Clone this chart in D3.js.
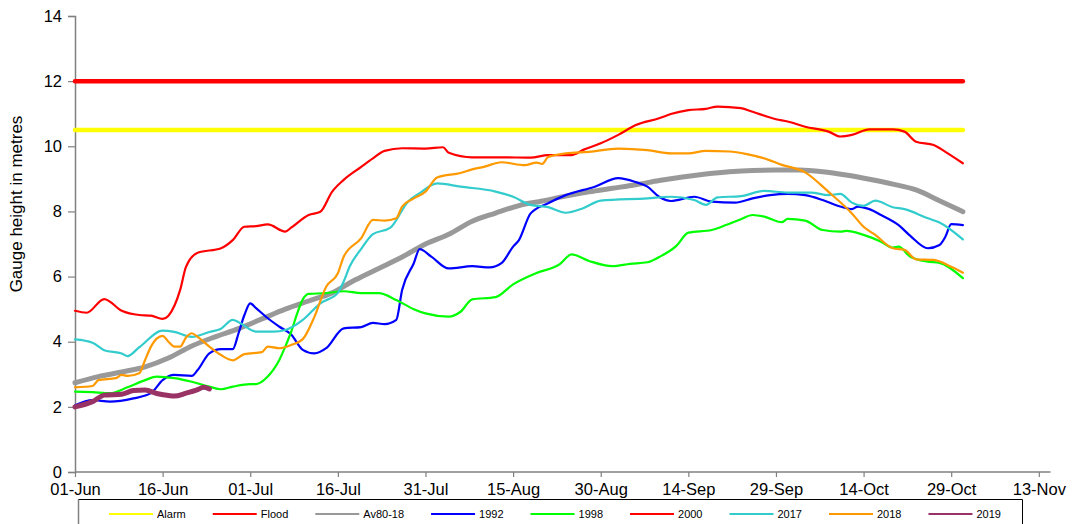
<!DOCTYPE html>
<html>
<head>
<meta charset="utf-8">
<script src="https://cdnjs.cloudflare.com/ajax/libs/d3/7.8.5/d3.min.js"></script>
<style>
  body { margin: 0; background: #fff; }
  text { font-family: "Liberation Sans", Arial, sans-serif; }
</style>
</head>
<body>
<script>
// days counted from 01-Jun, gauge height in metres
const tickDays = [0, 15, 30, 45, 60, 75, 90, 105, 120, 135, 150, 165];
const tickLabels = ["01-Jun", "16-Jun", "01-Jul", "16-Jul", "31-Jul", "15-Aug", "30-Aug", "14-Sep", "29-Sep", "14-Oct", "29-Oct", "13-Nov"];
const yTicks = [0, 2, 4, 6, 8, 10, 12, 14];

const seriesNames = ["Alarm", "Flood", "Av80-18", "1992", "1998", "2000", "2017", "2018", "2019"];
const colours = ["#ffff00", "#ff0000", "#999999", "#0000ff", "#00ff00", "#ff0000", "#33cccc", "#ff9900", "#993366"];
const widths = [4.5, 4.5, 5, 2.2, 2.2, 2.2, 2.2, 2.2, 5];

const alarm = [[0, 10.5], [152, 10.5]];
const flood = [[0, 12], [152, 12]];

const av8018 = [[0,2.74],[4,2.93],[8,3.07],[12,3.23],[16,3.5],[20,3.87],[24,4.15],[28,4.4],[32,4.7],[36,5.0],[40,5.25],[44,5.5],[48,5.9],[52,6.25],[56,6.6],[60,7.0],[64,7.3],[68,7.7],[72,7.95],[76,8.18],[80,8.32],[84,8.47],[88,8.6],[92,8.71],[96,8.82],[100,8.95],[104,9.06],[108,9.15],[112,9.22],[116,9.26],[120,9.27],[124,9.27],[128,9.22],[132,9.12],[136,8.99],[140,8.84],[144,8.66],[148,8.33],[152,7.99]];

const y1992 = [[0,2.05],[3,2.21],[6,2.16],[10,2.26],[13,2.42],[15,2.82],[17,2.98],[20,2.95],[21,3.13],[23,3.64],[25,3.77],[27,3.77],[28,4.26],[29,4.82],[30,5.18],[31,5.03],[33,4.72],[35,4.46],[37,4.22],[39,3.75],[41,3.64],[43,3.8],[46,4.41],[49,4.45],[51,4.58],[53,4.54],[55,4.67],[56,5.59],[58,6.41],[59,6.84],[61,6.61],[64,6.25],[68,6.32],[71,6.28],[73,6.41],[75,6.92],[76,7.12],[78,7.94],[81,8.25],[84,8.5],[89,8.76],[93,9.02],[96,8.9],[98,8.76],[100,8.45],[102,8.32],[106,8.45],[109,8.3],[113,8.27],[116,8.4],[119,8.5],[122,8.54],[125,8.5],[128,8.35],[131,8.15],[133,8.07],[134,8.15],[136,8.07],[138,7.89],[141,7.58],[143,7.25],[146,6.87],[148,6.97],[149,7.22],[150,7.61],[152,7.58]];

const y1998 = [[0,2.47],[3,2.45],[6,2.42],[9,2.6],[12,2.82],[14,2.93],[17,2.88],[20,2.77],[23,2.62],[25,2.54],[27,2.62],[30,2.7],[31,2.7],[33,2.93],[34,3.15],[35,3.45],[36,3.85],[37,4.3],[38,4.85],[39,5.3],[40,5.47],[43,5.49],[46,5.55],[49,5.49],[52,5.49],[55,5.28],[58,5.0],[60,4.87],[64,4.77],[66,4.92],[68,5.3],[72,5.37],[75,5.76],[79,6.11],[83,6.38],[85,6.68],[88,6.48],[92,6.32],[95,6.39],[98,6.44],[100,6.6],[103,6.95],[105,7.35],[109,7.43],[111,7.55],[114,7.76],[116,7.89],[118,7.84],[121,7.67],[122,7.77],[125,7.72],[128,7.43],[131,7.38],[132,7.4],[135,7.28],[138,7.07],[140,6.89],[141,6.92],[143,6.61],[146,6.46],[148,6.42],[152,5.95]];

const y2000 = [[0,4.95],[2,4.89],[5,5.31],[8,4.95],[11,4.82],[13,4.8],[15,4.7],[16,4.8],[18,5.59],[19,6.3],[21,6.73],[25,6.87],[27,7.12],[29,7.53],[31,7.55],[33,7.6],[36,7.38],[37,7.5],[40,7.89],[42,7.99],[44,8.6],[46,8.97],[49,9.37],[51,9.63],[53,9.86],[56,9.94],[60,9.93],[63,9.97],[64,9.8],[68,9.66],[73,9.66],[78,9.65],[81,9.73],[85,9.73],[87,9.89],[90,10.09],[93,10.35],[96,10.65],[100,10.86],[102,10.99],[105,11.11],[108,11.15],[110,11.22],[114,11.17],[116,11.06],[120,10.83],[122,10.76],[125,10.6],[129,10.45],[131,10.3],[133,10.35],[136,10.52],[140,10.52],[142,10.45],[144,10.14],[147,10.04],[149,9.83],[152,9.48]];

const y2017 = [[0,4.07],[3,3.97],[5,3.74],[8,3.64],[9,3.56],[11,3.83],[15,4.34],[17,4.3],[20,4.15],[23,4.3],[25,4.4],[27,4.67],[28,4.6],[31,4.31],[34,4.31],[36,4.36],[39,4.67],[42,5.18],[45,5.5],[46,5.85],[47,6.3],[49,6.85],[51,7.3],[54,7.5],[57,8.3],[59,8.56],[62,8.86],[66,8.76],[72,8.61],[75,8.45],[78,8.2],[81,8.13],[84,7.96],[87,8.1],[90,8.33],[98,8.4],[102,8.45],[106,8.35],[108,8.2],[110,8.43],[114,8.47],[118,8.63],[122,8.58],[126,8.58],[129,8.5],[131,8.54],[133,8.27],[135,8.17],[137,8.33],[140,8.13],[142,8.07],[146,7.79],[148,7.66],[152,7.14]];

const y2018 = [[0,2.6],[3,2.64],[4,2.82],[7,2.88],[8,2.98],[9,2.95],[11,3.03],[12,3.44],[13,3.85],[15,4.18],[16,4.0],[17,3.85],[18,3.85],[19,4.13],[20,4.26],[21,4.15],[23,3.85],[25,3.59],[27,3.43],[29,3.62],[32,3.68],[33,3.85],[35,3.8],[37,3.9],[39,4.08],[41,4.77],[43,5.69],[45,6.1],[46,6.61],[49,7.18],[51,7.74],[53,7.72],[55,7.79],[56,8.15],[58,8.4],[60,8.61],[62,9.04],[66,9.18],[68,9.29],[70,9.37],[73,9.51],[77,9.42],[79,9.5],[80,9.46],[81,9.67],[84,9.78],[88,9.83],[93,9.93],[98,9.88],[102,9.78],[105,9.78],[108,9.86],[112,9.84],[115,9.76],[118,9.63],[121,9.43],[125,9.2],[129,8.6],[133,7.94],[135,7.53],[137,7.28],[140,6.87],[142,6.82],[144,6.53],[147,6.51],[150,6.3],[152,6.12]];

const y2019 = [[0,2.0],[3,2.16],[5,2.36],[8,2.39],[10,2.5],[12,2.52],[14,2.41],[16,2.35],[17,2.33],[19,2.42],[21,2.53],[22,2.6],[23,2.55]];

const allSeries = [alarm, flood, av8018, y1992, y1998, y2000, y2017, y2018, y2019];

const width = 1075, height = 524;
const svg = d3.select("body").append("svg").attr("width", width).attr("height", height);

const x = d3.scaleLinear().domain([0, 167]).range([75, 1050.5]);
const y = d3.scaleLinear().domain([0, 14]).range([472, 16]);

// axes
const yAxis = svg.append("g").attr("transform", "translate(75,0)")
  .call(d3.axisLeft(y).tickValues(yTicks).tickSize(7).tickPadding(6).tickFormat(d3.format("d")));
const xAxis = svg.append("g").attr("transform", "translate(0,472)")
  .call(d3.axisBottom(x).tickValues(tickDays).tickSize(5).tickPadding(6).tickFormat((d, i) => tickLabels[i]));

[yAxis, xAxis].forEach(g => {
  g.select(".domain").attr("stroke", "#808080").attr("stroke-width", 1.5);
  g.selectAll(".tick line").attr("stroke", "#808080").attr("stroke-width", 1.2);
  g.selectAll(".tick text").attr("fill", "#000").style("font-size", "16.5px")
    .style("font-family", "'Liberation Sans', Arial, sans-serif");
});
xAxis.select(".domain").attr("d", "M" + x(0) + ",0H" + x(167));

svg.append("text")
  .attr("transform", "translate(22,204) rotate(-90)")
  .attr("text-anchor", "middle")
  .style("font-size", "17px")
  .text("Gauge height in metres");

// series lines
const line = d3.line().x(d => x(d[0])).y(d => y(d[1])).curve(d3.curveMonotoneX);
svg.append("g").selectAll("path")
  .data(allSeries)
  .join("path")
  .attr("d", line)
  .attr("fill", "none")
  .attr("stroke", (d, i) => colours[i])
  .attr("stroke-width", (d, i) => widths[i])
  .attr("stroke-linecap", "round")
  .attr("stroke-linejoin", "round");

// legend
const legend = svg.append("g");
legend.append("path")
  .attr("d", "M78.5,526V499.5H1022.5V526")
  .attr("fill", "#fff").attr("stroke", "#000").attr("stroke-width", 1);
legend.append("path").attr("d", "M78.5,499.5V526").attr("stroke", "#808080").attr("stroke-width", 1.5);

let lx = 109;
seriesNames.forEach((name, i) => {
  legend.append("line")
    .attr("x1", lx).attr("x2", lx + 44).attr("y1", 514).attr("y2", 514)
    .attr("stroke", colours[i]).attr("stroke-width", 2);
  const t = legend.append("text")
    .attr("x", lx + 48).attr("y", 518)
    .style("font-size", "11px")
    .text(name);
  lx = lx + 48 + t.node().getComputedTextLength() + 27;
});
</script>
</body>
</html>
